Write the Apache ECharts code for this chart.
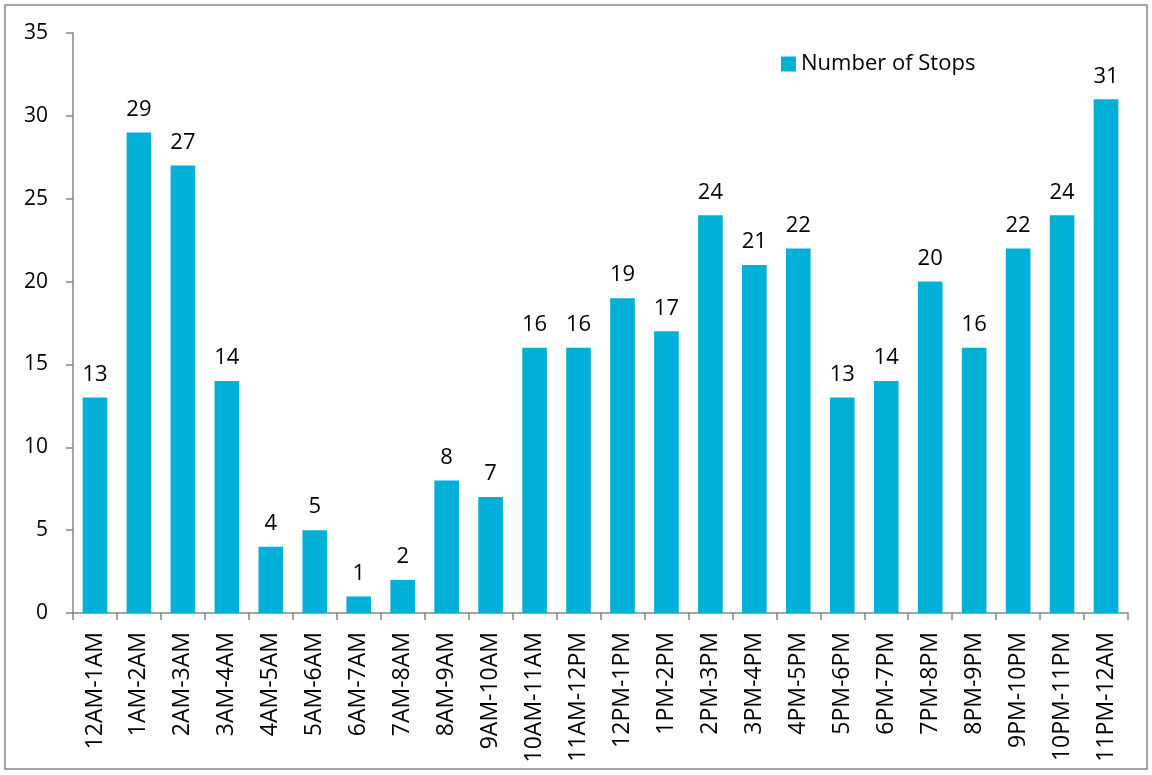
<!DOCTYPE html>
<html>
<head>
<meta charset="utf-8">
<script src="https://cdn.jsdelivr.net/npm/echarts@6/dist/echarts.min.js"></script>
<style>
html, body { margin: 0; padding: 0; background: #fff; overflow: hidden; }
#chart { width: 1152px; height: 775px; }
</style>
</head>
<body>
<div id="chart"></div>
<script>
// hourly buckets
var categories = ['12AM-1AM', '1AM-2AM', '2AM-3AM', '3AM-4AM', '4AM-5AM', '5AM-6AM',
	'6AM-7AM', '7AM-8AM', '8AM-9AM', '9AM-10AM', '10AM-11AM', '11AM-12PM',
	'12PM-1PM', '1PM-2PM', '2PM-3PM', '3PM-4PM', '4PM-5PM', '5PM-6PM',
	'6PM-7PM', '7PM-8PM', '8PM-9PM', '9PM-10PM', '10PM-11PM', '11PM-12AM'];
var stops = [13, 29, 27, 14, 4, 5, 1, 2, 8, 7, 16, 16, 19, 17, 24, 21, 22, 13, 14, 20, 16, 22, 24, 31];
var seriesName = 'Number of Stops';
var yMin = 0, yMax = 35, yStep = 5;

var font = '"Open Sans", "Noto Sans", sans-serif';
var axisGray = '#868686';

var chart = echarts.init(document.getElementById('chart'));
chart.setOption({
	animation: false,
	textStyle: { fontFamily: font },
	graphic: [{
		type: 'rect',
		shape: { x: 5, y: 5, width: 1142, height: 764 },
		style: { fill: 'none', stroke: axisGray, lineWidth: 1.5 },
		silent: true
	}],
	legend: {
		left: 776,
		top: 48,
		itemWidth: 15,
		itemHeight: 15,
		itemGap: 10,
		icon: 'rect',
		textStyle: { fontSize: 22, color: '#000', fontFamily: font },
		data: [seriesName]
	},
	grid: { left: 73, right: 24, top: 33, bottom: 162, containLabel: false },
	xAxis: {
		type: 'category',
		data: categories,
		axisLine: { lineStyle: { color: axisGray, width: 1.5 } },
		axisTick: { show: true, length: 7, alignWithLabel: false, lineStyle: { color: axisGray, width: 1.5 } },
		axisLabel: { rotate: 90, margin: 19, fontSize: 23, color: '#000', fontFamily: font, interval: 0 }
	},
	yAxis: {
		type: 'value',
		min: yMin,
		max: yMax,
		interval: yStep,
		axisLine: { show: true, lineStyle: { color: axisGray, width: 1.5 } },
		axisTick: { show: true, length: 7, lineStyle: { color: axisGray, width: 1.5 } },
		splitLine: { show: false },
		axisLabel: { margin: 25, fontSize: 21, color: '#000', fontFamily: font }
	},
	series: [{
		name: seriesName,
		type: 'bar',
		data: stops,
		barCategoryGap: '44%',
		itemStyle: { color: '#00B0D6' },
		label: {
			show: true,
			position: 'top',
			distance: 12,
			fontSize: 22,
			color: '#000',
			fontFamily: font
		}
	}]
});
</script>
</body>
</html>
